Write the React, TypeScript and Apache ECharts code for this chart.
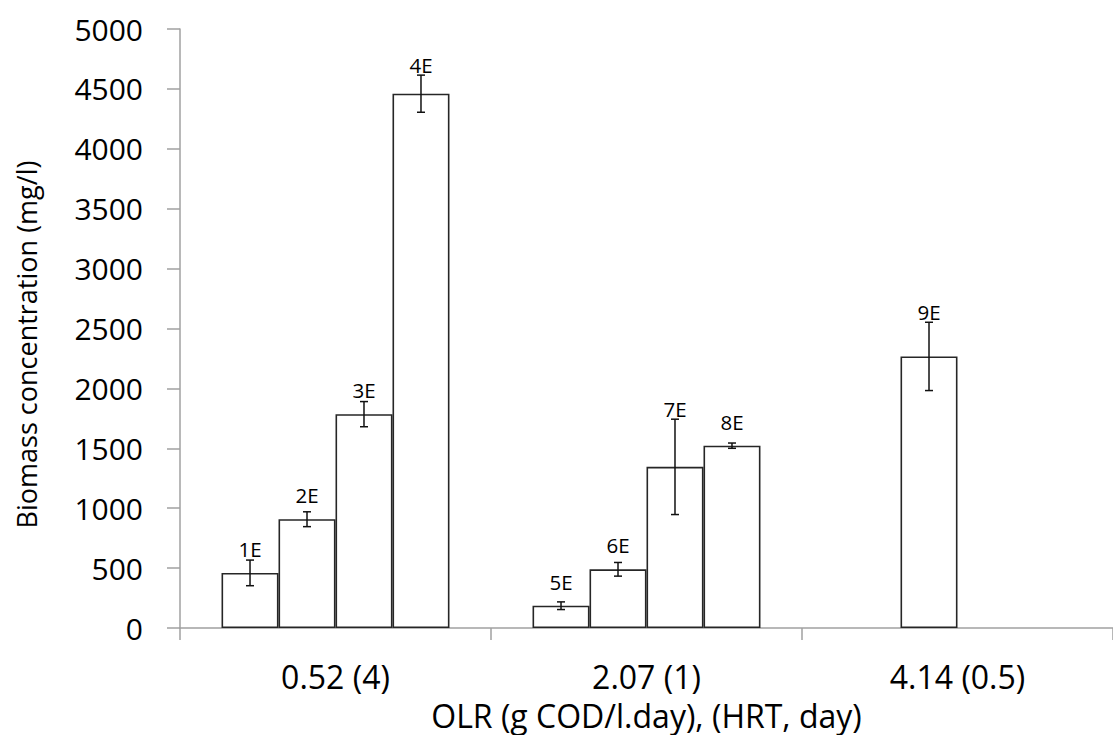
import React, { useEffect, useRef } from "react";
import * as echarts from "echarts";

const categories = ["0.52 (4)", "2.07 (1)", "4.14 (0.5)"];
const yTicks = { min: 0, max: 5000, interval: 500 };
const barLabels = ["1E", "2E", "3E", "4E", "5E", "6E", "7E", "8E", "9E"];
const barGroup = [0, 0, 0, 0, 1, 1, 1, 1, 2];
const barSlot = [0, 1, 2, 3, 0, 1, 2, 3, 1];
const barValues = [460, 908, 1785, 4460, 186, 490, 1345, 1522, 2267];
const barErrors = [107, 62, 105, 155, 32, 57, 398, 22, 285];

const SLOTS = 4;
const CAT_GAP = 0.267;
const FONT = "'Open Sans', Lato, sans-serif";

export default function App() {
  const ref = useRef<HTMLDivElement>(null);
  useEffect(() => {
    if (!ref.current) return;
    const chart = echarts.init(ref.current, undefined, { renderer: "svg" });

    const barSeries = [];
    for (let s = 0; s < SLOTS; s++) {
      const data: (number | null)[] = categories.map(() => null);
      barValues.forEach((v, i) => {
        if (barSlot[i] === s) data[barGroup[i]] = v;
      });
      barSeries.push({
        type: "bar",
        data,
        barGap: "0%",
        barCategoryGap: CAT_GAP * 100 + "%",
        itemStyle: { color: "#ffffff", borderColor: "#262626", borderWidth: 1.6 },
        silent: true,
      });
    }

    const errData = barValues.map((v, i) => [barGroup[i], v, barErrors[i], barSlot[i]]);

    const option = {
      animation: false,
      grid: {
        left: 180,
        right: 0,
        top: 29,
        bottom: 107,
        containLabel: false,
        outerBoundsMode: "none",
      },
      xAxis: {
        type: "category",
        data: categories,
        axisLine: { show: true, lineStyle: { color: "#a0a0a0", width: 1.5 } },
        axisTick: { show: true, length: 12, lineStyle: { color: "#a0a0a0", width: 1.5 } },
        axisLabel: { color: "#000", fontSize: 32, lineHeight: 30, fontFamily: FONT, margin: 33 },
        name: "OLR (g COD/l.day), (HRT, day)",
        nameLocation: "middle",
        nameGap: 72,
        nameTextStyle: { color: "#000", fontSize: 32, lineHeight: 30, fontFamily: FONT },
      },
      yAxis: {
        type: "value",
        min: yTicks.min,
        max: yTicks.max,
        interval: yTicks.interval,
        splitLine: { show: false },
        axisLine: { show: true, lineStyle: { color: "#a0a0a0", width: 1.5 } },
        axisTick: { show: true, length: 13, lineStyle: { color: "#a0a0a0", width: 1.5 } },
        axisLabel: {
          color: "#000",
          fontSize: 30,
          fontFamily: FONT,
          margin: 37,
          formatter: (v: number) => String(v),
        },
        name: "Biomass concentration (mg/l)",
        nameLocation: "middle",
        nameRotate: 90,
        nameGap: 140,
        nameTextStyle: { color: "#000", fontSize: 27, fontFamily: FONT, padding: [0, 32, 0, 0] },
      },
      series: [
        ...barSeries,
        {
          type: "custom",
          data: errData,
          silent: true,
          z: 10,
          renderItem: (params: any, api: any) => {
            const cat = api.value(0);
            const val = api.value(1);
            const err = api.value(2);
            const slot = api.value(3);
            const bandW = api.size([1, 0])[0];
            const bw = (bandW * (1 - CAT_GAP)) / SLOTS;
            const c = api.coord([cat, val]);
            const x = c[0] + (slot - (SLOTS - 1) / 2) * bw;
            const yTop = api.coord([cat, val + err])[1];
            const yBot = api.coord([cat, val - err])[1];
            const cap = 4;
            const labelY = Math.min(c[1] - 24, yTop - 10);
            const style = { stroke: "#111", lineWidth: 1.5 };
            return {
              type: "group",
              children: [
                { type: "line", shape: { x1: x, y1: yTop, x2: x, y2: yBot }, style },
                { type: "line", shape: { x1: x - cap, y1: yTop, x2: x + cap, y2: yTop }, style },
                { type: "line", shape: { x1: x - cap, y1: yBot, x2: x + cap, y2: yBot }, style },
                {
                  type: "text",
                  x,
                  y: labelY,
                  style: {
                    text: barLabels[params.dataIndex],
                    fontSize: 20.5,
                    fontFamily: FONT,
                    fill: "#000",
                    align: "center",
                    verticalAlign: "middle",
                  },
                },
              ],
            };
          },
        },
      ],
    };
    chart.setOption(option as any);
    return () => chart.dispose();
  }, []);
  return (
    <div
      ref={ref}
      style={{ position: "fixed", left: 0, top: 0, width: 1113, height: 735, background: "#fff" }}
    />
  );
}
